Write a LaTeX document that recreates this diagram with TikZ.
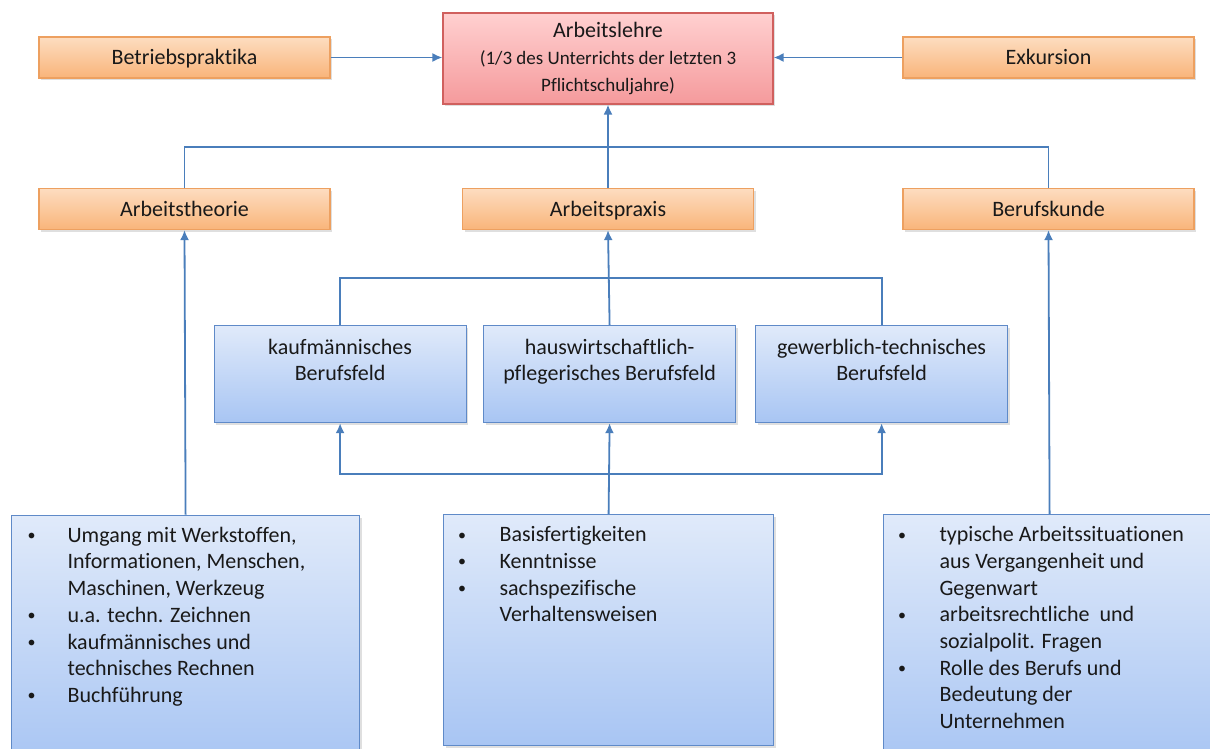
\documentclass[tikz,border=0pt]{standalone}
\usepackage{fontspec}
\setmainfont{Carlito}[Ligatures=CommonOff]
\usepackage{tikz}
\usetikzlibrary{arrows.meta,positioning,calc,shadows}

\definecolor{orangetop}{HTML}{FDDDC0}
\definecolor{orangebot}{HTML}{F9B47A}
\definecolor{orangeline}{HTML}{EDA060}
\definecolor{redtop}{HTML}{FFD0D0}
\definecolor{redbot}{HTML}{F59A9C}
\definecolor{redline}{HTML}{D0605E}
\definecolor{bluetop}{HTML}{E0EAFA}
\definecolor{bluebot}{HTML}{A8C5F3}
\definecolor{blueline}{HTML}{5F8AC8}
\definecolor{connline}{HTML}{4A7EBB}
\newcommand{\bul}{\raisebox{1.5pt}{\fontsize{16}{16}\selectfont\textbullet}}

\begin{document}
\begin{tikzpicture}[
      x=1pt,y=-1pt,
      every node/.style={font=\fontsize{22}{26.7}\selectfont,text=black!90},
      boxbase/.style={draw,line width=1.2pt,drop shadow={opacity=0.25,shadow xshift=2pt,shadow yshift=-2.5pt}},
      orangebox/.style={boxbase,draw=orangeline,top color=orangetop,bottom color=orangebot,minimum width=291pt,minimum height=41pt,text height=17pt,text depth=2pt},
      redbox/.style={boxbase,draw=redline,top color=redtop,bottom color=redbot,minimum width=330pt,minimum height=91pt,align=center},
      bluebox/.style={boxbase,draw=blueline,top color=bluetop,bottom color=bluebot,inner sep=0pt,anchor=north west},
      conn/.style={draw=connline,line width=1.8pt},
      arr/.style={conn,-{Latex[length=10pt,width=9pt]}}
    ]
      \useasboundingbox (0,0) rectangle (1210,749);
      \node[redbox] (lehre) at (608,58.5) {{\fontsize{22}{26}\selectfont Arbeitslehre}\\{\fontsize{19}{26}\selectfont (1/3 des Unterrichts der letzten 3}\\{\fontsize{19}{26}\selectfont Pflichtschuljahre)}};
      \node[orangebox] (betr) at (184.5,57.5) {Betriebspraktika};
      \node[orangebox] (exk) at (1048.5,57.5) {Exkursion};
      \node[orangebox] (theorie) at (184.5,209) {Arbeitstheorie};
      \node[orangebox] (praxis) at (608,209) {Arbeitspraxis};
      \node[orangebox] (kunde) at (1048.5,209) {Berufskunde};
      \node[bluebox] (kauf) at (213.5,325) {\parbox[t][97pt][t]{252pt}{\centering\vspace*{10pt}\strut kaufmännisches\\Berufsfeld}};
      \node[bluebox] (hausw) at (483,325) {\parbox[t][97pt][t]{252pt}{\centering\vspace*{10pt}\strut hauswirtschaftlich-\\pflegerisches Berufsfeld}};
      \node[bluebox] (gew) at (755,325) {\parbox[t][97pt][t]{252pt}{\centering\vspace*{10pt}\strut gewerblich-technisches\\Berufsfeld}};
      \node[bluebox] (links) at (11,514.5) {\parbox[t][250pt][t]{348pt}{\vspace*{8.5pt}%
        \begin{tabular}{@{\hspace{16pt}}p{40pt}@{}l@{}}
        \bul & Umgang mit Werkstoffen,\\
        & Informationen, Menschen,\\
        & Maschinen, Werkzeug\\
        \bul & u.a. techn. Zeichnen\\
        \bul & kaufmännisches und\\
        & technisches Rechnen\\
        \bul & Buchführung
        \end{tabular}}};
      \node[bluebox] (mitte) at (443,514) {\parbox[t][231pt][t]{330pt}{\vspace*{8.5pt}%
        \begin{tabular}{@{\hspace{14.5pt}}p{41.5pt}@{}l@{}}
        \bul & Basisfertigkeiten\\
        \bul & Kenntnisse\\
        \bul & sachspezifische\\
        & Verhaltensweisen
        \end{tabular}}};
      \node[bluebox] (rechts) at (883,514) {\parbox[t][250pt][t]{332pt}{\vspace*{8.5pt}%
        \begin{tabular}{@{\hspace{14.5pt}}p{41.5pt}@{}l@{}}
        \bul & typische Arbeitssituationen\\
        & aus Vergangenheit und\\
        & Gegenwart\\
        \bul & arbeitsrechtliche\ \ und\\
        & sozialpolit. Fragen\\
        \bul & Rolle des Berufs und\\
        & Bedeutung der\\
        & Unternehmen
        \end{tabular}}};
      \coordinate (topbus) at (608,147);
      \coordinate (midbus) at (608,278);
      \coordinate (lowbus) at (608,474);
      \draw[arr] (betr.east) -- (betr.east -| lehre.west);
      \draw[arr] (exk.west) -- (exk.west -| lehre.east);
      \draw[conn] (theorie.north) |- (topbus) -| (kunde.north);
      \draw[arr] (praxis.north) -- (lehre.south);
      \draw[conn] (kauf.north) |- (midbus) -| (gew.north);
      \draw[arr] (hausw.north) -- (praxis.south);
      \draw[arr] (lowbus) -| (kauf.south);
      \draw[arr] (lowbus) -| (gew.south);
      \draw[arr] (mitte.north) -- (hausw.south);
      \draw[arr] (links.north) -- (theorie.south);
      \draw[arr] (rechts.north) -- (kunde.south);
    \end{tikzpicture}
\end{document}
